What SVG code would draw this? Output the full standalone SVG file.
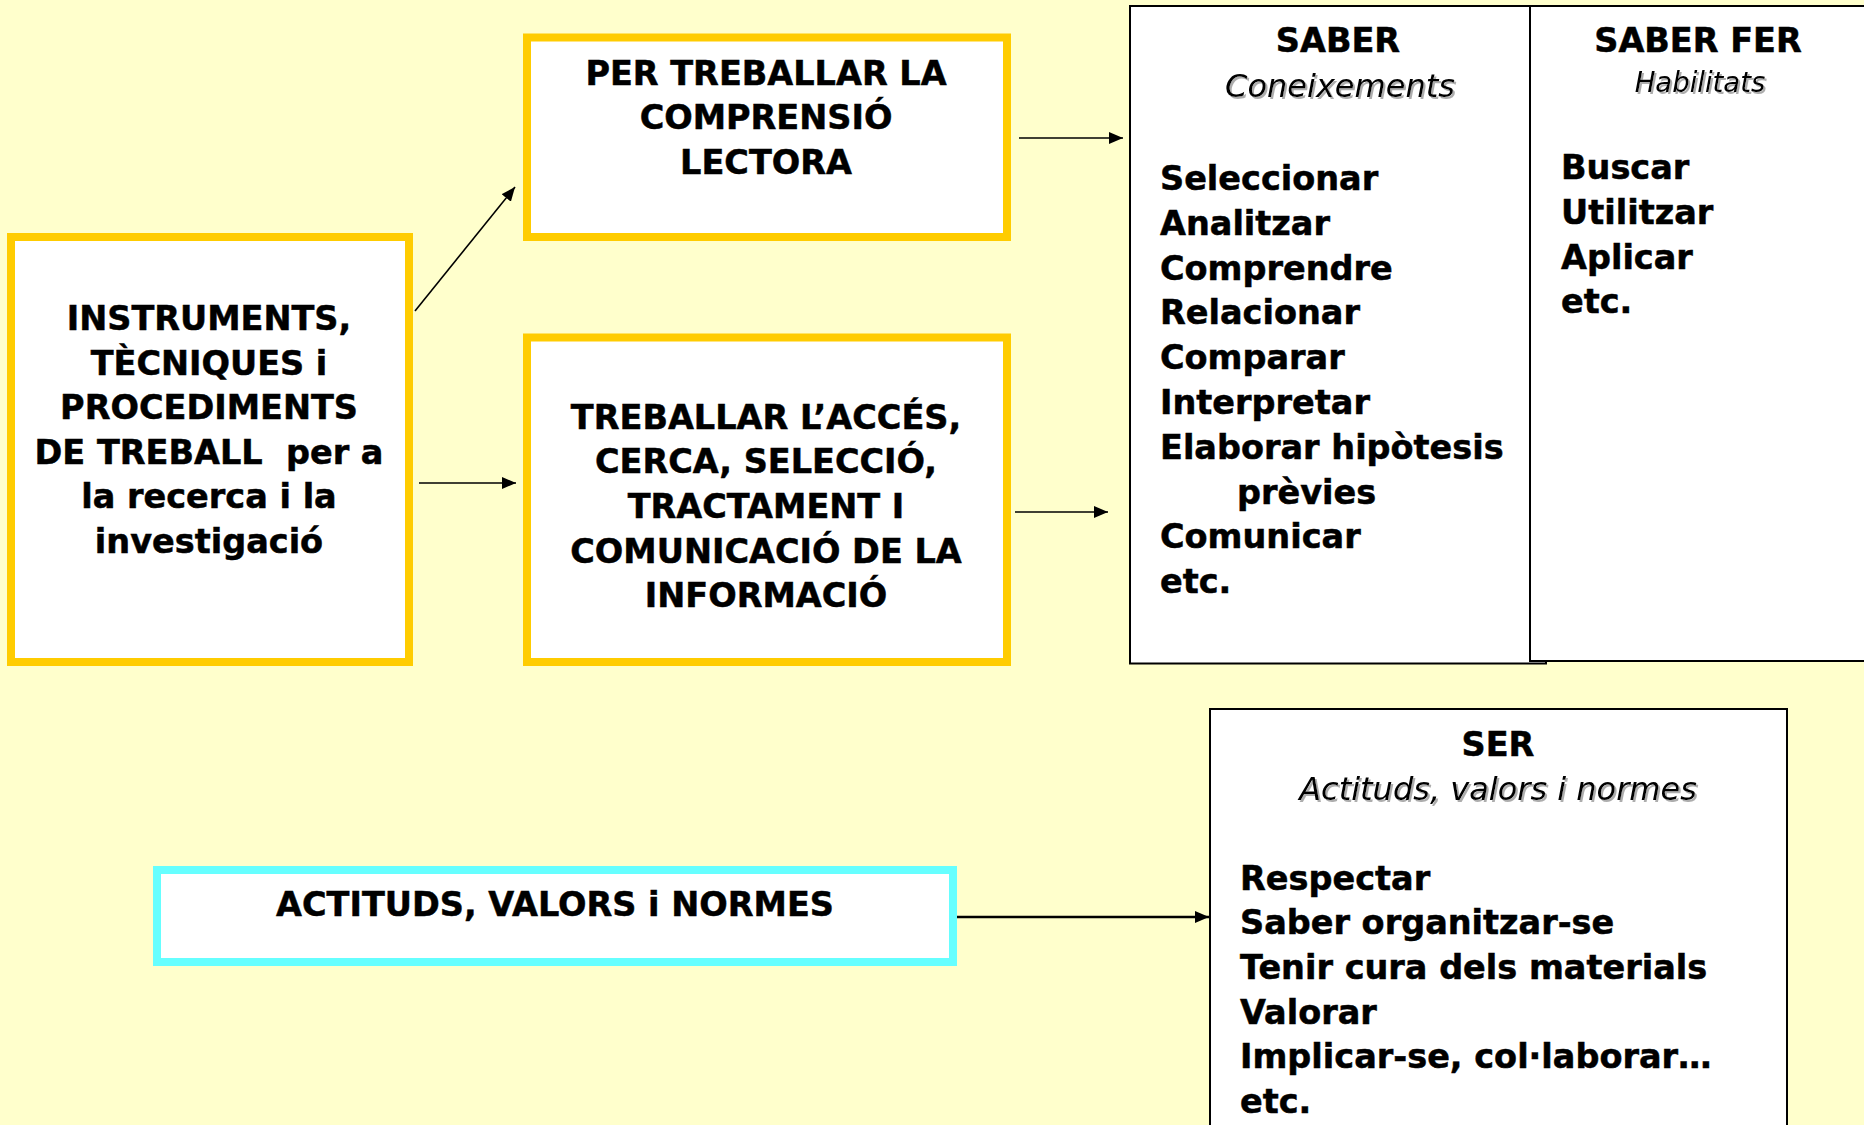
<svg xmlns="http://www.w3.org/2000/svg" width="1864" height="1125" viewBox="0 0 1864 1125">
<style>
.bg{fill:#FFFFCC}
.ybox{fill:#FFFFFF;stroke:#FFCC00;stroke-width:8}
.cbox{fill:#FFFFFF;stroke:#66FFFF;stroke-width:8}
.kbox{fill:#FFFFFF;stroke:#000000;stroke-width:2}
.b{font-family:"DejaVu Sans","Verdana",sans-serif;font-weight:bold;font-size:33.5px;fill:#000;stroke:#000;stroke-width:0.5}
.c{text-anchor:middle}
.it{font-family:"DejaVu Sans","Verdana",sans-serif;font-style:italic;font-size:32px;fill:#000;filter:url(#sh)}
.conn{stroke:#000;stroke-width:1.6;fill:none;marker-end:url(#ah)}
.conn2{stroke:#000;stroke-width:2.6;fill:none;marker-end:url(#ah2)}
</style>
<defs>
<marker id="ah" markerUnits="userSpaceOnUse" markerWidth="16" markerHeight="14" refX="14" refY="6" orient="auto"><path d="M0,0 L14,6 L0,12 Z" fill="#000"/></marker>
<marker id="ah2" markerUnits="userSpaceOnUse" markerWidth="16" markerHeight="14" refX="14" refY="6" orient="auto"><path d="M0,0 L14,6 L0,12 Z" fill="#000"/></marker>
<filter id="sh" x="-10%" y="-30%" width="120%" height="160%"><feDropShadow dx="2" dy="2" stdDeviation="0.3" flood-color="#999999" flood-opacity="0.8"/></filter>
</defs>
<rect class="bg" x="0" y="0" width="1864" height="1125"/>

<g id="connectors">
<line class="conn" x1="415" y1="311" x2="515" y2="187"/>
<line class="conn" x1="419" y1="483" x2="516" y2="483"/>
<line class="conn" x1="1019" y1="138" x2="1123" y2="138"/>
<line class="conn" x1="1015" y1="512" x2="1108" y2="512"/>
<line class="conn2" x1="957" y1="917" x2="1209" y2="917"/>
</g>

<g id="instruments">
<rect class="ybox" x="11" y="237" width="398" height="425"/>
<text class="b c" x="209" y="330">INSTRUMENTS,</text>
<text class="b c" x="209" y="375">TÈCNIQUES i</text>
<text class="b c" x="209" y="419">PROCEDIMENTS</text>
<text class="b c" x="209" y="464" xml:space="preserve">DE TREBALL  per a</text>
<text class="b c" x="209" y="508">la recerca i la</text>
<text class="b c" x="209" y="553">investigació</text>
</g>

<g id="comprensio">
<rect class="ybox" x="527" y="37.5" width="480" height="199.5"/>
<text class="b c" x="766" y="85">PER TREBALLAR LA</text>
<text class="b c" x="766" y="129">COMPRENSIÓ</text>
<text class="b c" x="766" y="174">LECTORA</text>
</g>

<g id="informacio">
<rect class="ybox" x="527" y="337.5" width="480" height="324.5"/>
<text class="b c" x="766" y="428.5">TREBALLAR L’ACCÉS,</text>
<text class="b c" x="766" y="473">CERCA, SELECCIÓ,</text>
<text class="b c" x="766" y="518">TRACTAMENT I</text>
<text class="b c" x="766" y="563">COMUNICACIÓ DE LA</text>
<text class="b c" x="766" y="607">INFORMACIÓ</text>
</g>

<g id="actituds">
<rect class="cbox" x="157" y="870" width="796" height="92"/>
<text class="b c" x="555" y="916">ACTITUDS, VALORS i NORMES</text>
</g>

<g id="saber">
<rect class="kbox" x="1130" y="6" width="416" height="657.5"/>
<text class="b c" x="1338" y="52">SABER</text>
<text class="it c" x="1340" y="97">Coneixements</text>
<text class="b" x="1160" y="190">Seleccionar</text>
<text class="b" x="1160" y="235">Analitzar</text>
<text class="b" x="1160" y="280">Comprendre</text>
<text class="b" x="1160" y="324">Relacionar</text>
<text class="b" x="1160" y="369">Comparar</text>
<text class="b" x="1160" y="414">Interpretar</text>
<text class="b" x="1160" y="459">Elaborar hipòtesis</text>
<text class="b" x="1237" y="504">prèvies</text>
<text class="b" x="1160" y="548">Comunicar</text>
<text class="b" x="1160" y="593">etc.</text>
</g>

<g id="saber-fer">
<rect class="kbox" x="1530" y="6" width="400" height="655"/>
<text class="b c" x="1698" y="52">SABER FER</text>
<text class="it c" x="1700" y="92" style="font-size:27.5px">Habilitats</text>
<text class="b" x="1561" y="179">Buscar</text>
<text class="b" x="1561" y="224">Utilitzar</text>
<text class="b" x="1561" y="269">Aplicar</text>
<text class="b" x="1561" y="313">etc.</text>
</g>

<g id="ser">
<rect class="kbox" x="1210" y="709" width="577" height="440"/>
<text class="b c" x="1498" y="756">SER</text>
<text class="it c" x="1498" y="800">Actituds, valors i normes</text>
<text class="b" x="1240" y="890">Respectar</text>
<text class="b" x="1240" y="934">Saber organitzar-se</text>
<text class="b" x="1240" y="979">Tenir cura dels materials</text>
<text class="b" x="1240" y="1024">Valorar</text>
<text class="b" x="1240" y="1068">Implicar-se, col·laborar…</text>
<text class="b" x="1240" y="1113">etc.</text>
</g>
</svg>
